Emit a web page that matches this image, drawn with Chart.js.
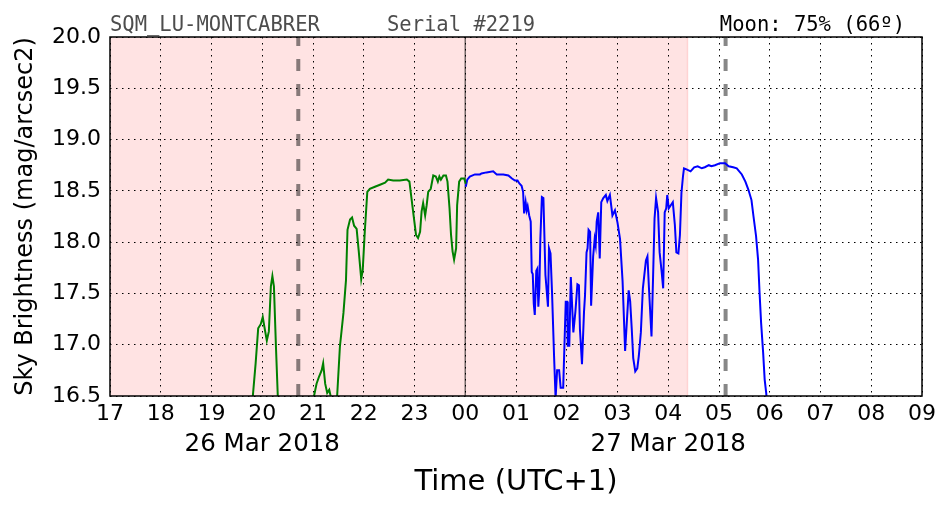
<!DOCTYPE html>
<html>
<head>
<meta charset="utf-8">
<title>SQM_LU-MONTCABRER</title>
<script src="https://cdn.jsdelivr.net/npm/chart.js@4.4.0/dist/chart.umd.min.js"></script>
<style>
  html, body { margin: 0; padding: 0; background: #fff; }
  canvas { display: block; }
</style>
</head>
<body>
<canvas id="myChart" width="952" height="512"></canvas>
<script>
// hours counted from 17:00 on 26 Mar 2018 (UTC+1)
const hourLabels = ["17","18","19","20","21","22","23","00","01","02","03","04","05","06","07","08","09"];
const dateLabels = { 3: "26 Mar 2018", 11: "27 Mar 2018" };
const magTicks = [16.5, 17.0, 17.5, 18.0, 18.5, 19.0, 19.5, 20.0];

// night (shaded), midnight, and the two dashed markers
const nightStart = 0;
const nightEnd = 11.38;
const midnight = 7;
const dashedMarks = [3.71, 12.13];

const greenHours = [2.78, 2.87, 2.92, 2.97, 3.01, 3.04, 3.09, 3.13, 3.17, 3.20, 3.23, 3.27, 3.31, 3.40,
  3.95, 4.02, 4.07, 4.12, 4.17, 4.20, 4.24, 4.28, 4.32, 4.37, 4.42, 4.47, 4.53, 4.60, 4.65, 4.68,
  4.73, 4.77, 4.81, 4.86, 4.90, 4.95, 4.98, 5.02, 5.07, 5.12, 5.22, 5.32, 5.42, 5.48, 5.58, 5.71,
  5.85, 5.90, 5.94, 5.99, 6.03, 6.07, 6.11, 6.14, 6.17, 6.21, 6.24, 6.27, 6.32, 6.37, 6.42, 6.46,
  6.49, 6.52, 6.57, 6.62, 6.65, 6.69, 6.72, 6.75, 6.78, 6.82, 6.84, 6.88, 6.92, 6.98, 7.01];
const greenMag = [16.3, 16.82, 17.16, 17.20, 17.27, 17.18, 17.04, 17.13, 17.57, 17.67, 17.57, 16.98, 16.45, 16.3,
  16.3, 16.5, 16.62, 16.69, 16.75, 16.82, 16.62, 16.53, 16.56, 16.45, 16.3, 16.45, 16.98, 17.31, 17.63, 18.12,
  18.22, 18.24, 18.16, 18.13, 17.92, 17.64, 17.73, 18.10, 18.49, 18.52, 18.54, 18.56, 18.58, 18.61, 18.60, 18.60,
  18.61, 18.59, 18.43, 18.23, 18.07, 18.04, 18.10, 18.30, 18.38, 18.26, 18.36, 18.49, 18.52, 18.65, 18.64, 18.59,
  18.64, 18.61, 18.65, 18.65, 18.59, 18.33, 18.07, 17.91, 17.83, 17.94, 18.36, 18.59, 18.62, 18.62, 18.57];

const blueHours = [7.01, 7.04, 7.09, 7.19, 7.29, 7.32, 7.42, 7.55, 7.62, 7.75, 7.85, 7.92, 7.98, 8.03,
  8.07, 8.11, 8.14, 8.16, 8.19, 8.21, 8.23, 8.26, 8.29, 8.31, 8.33, 8.35, 8.37, 8.40, 8.42, 8.44,
  8.46, 8.48, 8.51, 8.54, 8.58, 8.63, 8.65, 8.68, 8.71, 8.75, 8.78, 8.81, 8.85, 8.88, 8.93, 8.98,
  9.01, 9.02, 9.05, 9.08, 9.13, 9.17, 9.21, 9.24, 9.26, 9.30, 9.34, 9.36, 9.39, 9.41, 9.43, 9.46,
  9.48, 9.52, 9.55, 9.57, 9.59, 9.62, 9.65, 9.68, 9.72, 9.77, 9.80, 9.85, 9.90, 9.95, 10.00, 10.05,
  10.10, 10.15, 10.18, 10.22, 10.25, 10.28, 10.31, 10.35, 10.39, 10.42, 10.46, 10.50, 10.56, 10.59,
  10.62, 10.67, 10.70, 10.73, 10.76, 10.80, 10.83, 10.87, 10.90, 10.93, 10.96, 10.98, 11.01, 11.05,
  11.09, 11.13, 11.16, 11.20, 11.23, 11.26, 11.29, 11.31, 11.36, 11.44, 11.51, 11.58, 11.66, 11.72,
  11.80, 11.85, 11.92, 12.02, 12.12, 12.19, 12.28, 12.35, 12.45, 12.52, 12.58, 12.64, 12.68, 12.73,
  12.77, 12.80, 12.83, 12.87, 12.90, 12.93, 12.97];
const blueMag = [18.54, 18.61, 18.64, 18.66, 18.66, 18.67, 18.68, 18.69, 18.66, 18.66, 18.65, 18.62, 18.60, 18.60,
  18.57, 18.55, 18.49, 18.28, 18.39, 18.31, 18.35, 18.26, 18.20, 17.71, 17.69, 17.40, 17.29, 17.72, 17.74, 17.37,
  17.55, 18.03, 18.44, 18.43, 17.68, 17.37, 17.94, 17.89, 17.51, 16.89, 16.48, 16.75, 16.75, 16.58, 16.58, 17.42,
  17.42, 16.99, 16.99, 17.66, 17.12, 17.32, 17.59, 17.58, 17.15, 16.81, 17.32, 17.48, 17.90, 17.94, 18.12, 18.10,
  17.38, 17.86, 18.03, 17.97, 18.20, 18.29, 17.84, 18.39, 18.43, 18.46, 18.40, 18.46, 18.26, 18.31, 18.19, 18.03,
  17.62, 16.94, 17.19, 17.53, 17.42, 17.16, 16.87, 16.74, 16.77, 16.89, 17.12, 17.55, 17.82, 17.86,
  17.55, 17.08, 17.64, 18.23, 18.43, 18.29, 17.90, 17.71, 17.55, 18.29, 18.33, 18.46, 18.33, 18.36,
  18.39, 18.17, 17.90, 17.89, 18.07, 18.48, 18.64, 18.72, 18.71, 18.69, 18.73, 18.74, 18.72, 18.73,
  18.75, 18.74, 18.75, 18.77, 18.77, 18.74, 18.73, 18.72, 18.66, 18.59, 18.51, 18.41, 18.25, 18.06,
  17.83, 17.50, 17.21, 16.92, 16.66, 16.53, 16.3];

function toPoints(xs, ys) {
  return xs.map((x, i) => ({ x: x, y: ys[i] }));
}

const nightAndMarks = {
  id: "nightAndMarks",
  beforeDraw(chart) {
    const { ctx, chartArea, scales } = chart;
    const x0 = scales.x.getPixelForValue(nightStart);
    const x1 = scales.x.getPixelForValue(nightEnd);
    ctx.save();
    ctx.fillStyle = "rgba(255,0,0,0.11)";
    ctx.fillRect(x0, chartArea.top, x1 - x0, chartArea.bottom - chartArea.top);
    ctx.strokeStyle = "rgba(255,0,0,0.12)";
    ctx.lineWidth = 1.5;
    ctx.beginPath();
    ctx.moveTo(x1, chartArea.top);
    ctx.lineTo(x1, chartArea.bottom);
    ctx.stroke();
    ctx.restore();
  },
  beforeDatasetsDraw(chart) {
    const { ctx, chartArea, scales } = chart;
    ctx.save();
    const xm = scales.x.getPixelForValue(midnight);
    ctx.strokeStyle = "rgba(0,0,0,0.55)";
    ctx.lineWidth = 1.5;
    ctx.beginPath();
    ctx.moveTo(xm, chartArea.top);
    ctx.lineTo(xm, chartArea.bottom);
    ctx.stroke();

    ctx.strokeStyle = "rgba(0,0,0,0.47)";
    ctx.lineWidth = 4;
    ctx.setLineDash([12, 13]);
    dashedMarks.forEach((h) => {
      const xp = scales.x.getPixelForValue(h);
      ctx.beginPath();
      ctx.moveTo(xp, chartArea.bottom);
      ctx.lineTo(xp, chartArea.top);
      ctx.stroke();
    });
    ctx.restore();
  },
  afterDraw(chart) {
    const { ctx, chartArea, scales } = chart;
    ctx.save();
    ctx.strokeStyle = "#000";
    ctx.lineWidth = 1.5;
    ctx.strokeRect(chartArea.left, chartArea.top, chartArea.right - chartArea.left, chartArea.bottom - chartArea.top);

    // date row under the hour ticks
    ctx.font = "24.5px 'DejaVu Sans'";
    ctx.fillStyle = "#000";
    ctx.textAlign = "center";
    ctx.textBaseline = "middle";
    Object.keys(dateLabels).forEach((k) => {
      ctx.fillText(dateLabels[k], scales.x.getPixelForValue(Number(k)), 445);
    });

    ctx.font = "20.5px 'DejaVu Sans Mono'";
    ctx.textBaseline = "alphabetic";
    ctx.fillStyle = "#4d4d4d";
    ctx.textAlign = "left";
    ctx.fillText("SQM_LU-MONTCABRER", 110, 31);
    ctx.fillText("Serial #2219", 387, 31);
    ctx.fillStyle = "#000";
    ctx.textAlign = "right";
    ctx.fillText("Moon: 75% (66º)", 905, 31);
    ctx.restore();
  },
};

new Chart(document.getElementById("myChart"), {
  type: "line",
  data: {
    datasets: [
      {
        label: "before midnight",
        data: toPoints(greenHours, greenMag),
        borderColor: "#008000",
        borderWidth: 2,
        pointRadius: 0,
        tension: 0,
        fill: false,
      },
      {
        label: "after midnight",
        data: toPoints(blueHours, blueMag),
        borderColor: "#0000ff",
        borderWidth: 2,
        pointRadius: 0,
        tension: 0,
        fill: false,
      },
    ],
  },
  options: {
    responsive: false,
    animation: false,
    layout: { padding: { top: 37, right: 30, left: 0, bottom: 0 } },
    plugins: {
      legend: { display: false },
      tooltip: { enabled: false },
    },
    scales: {
      x: {
        type: "linear",
        min: 0,
        max: 16,
        afterFit: (scale) => { scale.height = 116; },
        afterBuildTicks: (scale) => {
          scale.ticks = hourLabels.map((_, i) => ({ value: i }));
        },
        ticks: {
          color: "#000",
          font: { family: "'DejaVu Sans'", size: 22 },
          padding: 5,
          maxRotation: 0,
          autoSkip: false,
          callback: (v) => hourLabels[v],
        },
        grid: {
          color: "#000",
          lineWidth: 1,
          drawTicks: false,
        },
        border: { display: false, dash: [1.5, 4.5] },
        title: {
          display: true,
          text: "Time (UTC+1)",
          color: "#000",
          font: { family: "'DejaVu Sans'", size: 29 },
          padding: { top: 0, bottom: 12 },
        },
      },
      y: {
        min: 16.5,
        max: 20,
        afterFit: (scale) => { scale.width = 110; },
        afterBuildTicks: (scale) => {
          scale.ticks = magTicks.map((v) => ({ value: v }));
        },
        ticks: {
          color: "#000",
          font: { family: "'DejaVu Sans'", size: 22 },
          padding: 9,
          callback: (v) => v.toFixed(1),
        },
        grid: {
          color: "#000",
          lineWidth: 1,
          drawTicks: false,
        },
        border: { display: false, dash: [1.5, 4.5] },
        title: {
          display: true,
          text: "Sky Brightness (mag/arcsec2)",
          color: "#000",
          font: { family: "'DejaVu Sans'", size: 24 },
          padding: { top: 11, bottom: 0 },
        },
      },
    },
  },
  plugins: [nightAndMarks],
});
</script>
</body>
</html>
